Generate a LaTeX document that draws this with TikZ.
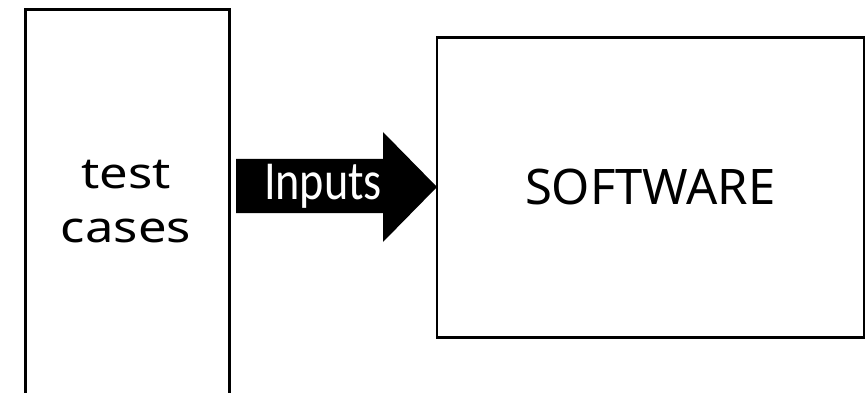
\documentclass[tikz,border=0pt]{standalone}
\usepackage{fontspec}
\setmainfont{Noto Sans}
\newfontfamily\calib{Carlito}
\begin{document}
\begin{tikzpicture}[x=1pt,y=-1pt,
  panel/.style={draw=black,line width=2.6pt,fill=white,inner sep=0pt},
  blockarrow/.style={fill=black,draw=none}]
\useasboundingbox (0,0) rectangle (868,393);
\fill[white] (0,0) rectangle (868,393);
% left column: the test cases
\node[panel,anchor=north west,minimum width=204pt,minimum height=384.5pt] (tc) at (24,8) {};
\node[font=\fontsize{43}{54}\selectfont,align=center,anchor=base,xscale=1.18] (tctxt) at (126,242) {test\\cases};
% right box: the software under test
\node[panel,anchor=north west,minimum width=427pt,minimum height=300pt] (sw) at (435.5,36) {};
\node[font=\fontsize{49}{58}\selectfont,anchor=center] (swtxt) at (sw.center) {SOFTWARE};
% block arrow feeding inputs into the software
\coordinate (tip) at (437,187);
\fill[blockarrow] (236,159) -- (383,159) -- (383,132) -- (tip) -- (383,242) -- (383,213) -- (236,213) -- cycle;
\node[font=\calib\fontsize{55}{60}\selectfont,text=white,anchor=base,xscale=0.84,inner sep=0pt] (inp) at (323,200) {Inputs};
\end{tikzpicture}
\end{document}
